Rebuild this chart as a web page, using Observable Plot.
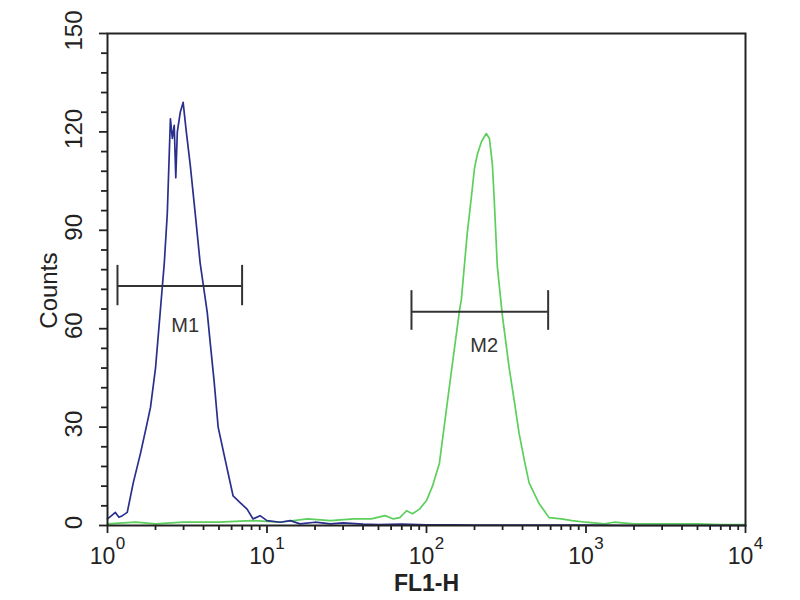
<!DOCTYPE html>
<html><head><meta charset="utf-8">
<script src="https://cdn.jsdelivr.net/npm/d3@7"></script>
<script src="https://cdn.jsdelivr.net/npm/@observablehq/plot@0.6"></script>
<style>body{margin:0;background:#fff;} svg{font-family:"Liberation Sans",Arial,sans-serif;}</style>
</head><body><div id="chart"></div>
<script>
// Blue histogram (control)
const blueX = [1.0,1.06,1.12,1.18,1.24,1.33,1.45,1.61,1.75,1.86,2.0,2.14,2.27,2.37,2.48,2.55,2.62,2.68,2.74,2.86,2.98,3.12,3.30,3.55,3.81,4.22,4.40,4.66,4.94,5.47,6.13,6.78,7.50,8.18,9.04,10,12.1,14,16.1,20,25,30,40,50,70,100,150,200,300,500,700,1000,2000,5000,10000];
const blueY = [2,3,4,2.5,3,4,13,22,30,36,48,65,80,95,124,118,122,106,120,126,129,120,110,95,80,65,56,44,30,20,9,7,5,2,3,1.5,1,1.5,0.5,1,0.5,0.8,0.4,0.3,0.4,0.2,0.2,0.1,0.1,0.1,0.1,0.1,0,0,0];
// Green histogram (antibody)
const greenX = [1,1.5,2,3,5,8,12,18,25,35,45,55,62,68,75,81.7,90.4,100,109,120.5,133,145,161,165.5,180,191,200,208,221,237,248,259,266,278,299,330,355,381,410,440,508,587,700,818,1000,1300,1500,2000,3000,5000,7000,10000];
const greenY = [0.5,1,0.5,1,1,1.5,1,2,1.5,2,2,3,2,2.4,4.5,3.6,5,7.6,12,19,35,49,65.5,69,89,100,109,113,117,119.5,118,110,99,79,64,48,38,28,20,13,6.7,2.4,2,1.5,1,0.5,1,0.5,0.5,0.5,0.3,0.3];
// Axes
const yMajor = [0,30,60,90,120,150];
const yMinor = [6,12,18,24,36,42,48,54,66,72,78,84,96,102,108,114,126,132,138,144];
const xMajor = [1,10,100,1000,10000];
const xExp = ["0","1","2","3","4"];
const xMinor = [1,10,100,1000].flatMap(d => [2,3,4,5,6,7,8,9].map(k => d*k));
const xTitle = "FL1-H";
const yTitle = "Counts";
// Markers
const markerName = ["M1","M2"];
const markerX1 = [1.155,80.5];
const markerX2 = [6.98,579];
const markerY = [73,65.2];
const markerLo = [67,59.5];
const markerHi = [79.3,71.6];
const markerLabelX = [3.07,230];
const markerLabelY = [61,55];

const blue = blueX.map((x,i)=>({x, y: blueY[i]}));
const green = greenX.map((x,i)=>({x, y: greenY[i]}));
const markers = markerName.map((n,i)=>({n, x1: markerX1[i], x2: markerX2[i], y: markerY[i], lo: markerLo[i], hi: markerHi[i], lx: markerLabelX[i], ly: markerLabelY[i]}));
const ink = "#222";

const chart = Plot.plot({
  width: 800, height: 600,
  marginLeft: 107, marginRight: 55, marginTop: 33, marginBottom: 75,
  style: {fontFamily: "Liberation Sans, Arial, sans-serif", background: "#fff", color: ink},
  x: {type: "log", domain: [1, 10000], axis: null},
  y: {domain: [0, 150], axis: null},
  marks: [
    Plot.axisY({ticks: yMajor, tickSize: 8, tickFormat: () => "", label: null, stroke: ink, strokeWidth: 1.8}),
    Plot.axisY({ticks: yMinor, tickSize: 6, tickFormat: () => "", label: null, stroke: ink, strokeWidth: 1.8}),
    Plot.axisX({ticks: xMajor, tickSize: 8, tickFormat: () => "", label: null, stroke: ink, strokeWidth: 1.8}),
    Plot.axisX({ticks: xMinor, tickSize: 5, tickFormat: () => "", label: null, stroke: ink, strokeWidth: 1.8}),
    Plot.text(yMajor, {y: d => d, text: d => String(d), frameAnchor: "left", dx: -33, dy: -3, rotate: -90, textAnchor: "middle", lineAnchor: "middle", fontSize: 24, fill: ink}),
    Plot.text(xMajor, {x: d => d, text: () => "10", frameAnchor: "bottom", dx: -5, dy: 31, lineAnchor: "middle", fontSize: 23, fill: ink}),
    Plot.text(xMajor, {x: d => d, text: (d,i) => xExp[i], frameAnchor: "bottom", dx: 13, dy: 18, lineAnchor: "middle", fontSize: 17, fill: ink}),
    Plot.text([xTitle], {x: () => 100, text: d => d, frameAnchor: "bottom", dy: 58, lineAnchor: "middle", fontSize: 23, fontWeight: "bold", fill: ink}),
    Plot.text([yTitle], {y: () => 71.6, text: d => d, frameAnchor: "left", dx: -58, rotate: -90, textAnchor: "middle", lineAnchor: "middle", fontSize: 24, fill: ink}),
    Plot.line(green, {x: "x", y: "y", stroke: "#5ccf5c", strokeWidth: 1.7}),
    Plot.line(blue, {x: "x", y: "y", stroke: "#2a2f8c", strokeWidth: 1.7}),
    Plot.ruleY(markers, {y: "y", x1: "x1", x2: "x2", stroke: "#333", strokeWidth: 2}),
    Plot.ruleX(markers, {x: "x1", y1: "lo", y2: "hi", stroke: "#333", strokeWidth: 2}),
    Plot.ruleX(markers, {x: "x2", y1: "lo", y2: "hi", stroke: "#333", strokeWidth: 2}),
    Plot.text(markers, {x: "lx", y: "ly", text: "n", lineAnchor: "middle", fontSize: 20, fill: "#333"}),
    Plot.frame({stroke: ink, strokeWidth: 2})
  ]
});
document.getElementById("chart").append(chart);
</script>
</body></html>
